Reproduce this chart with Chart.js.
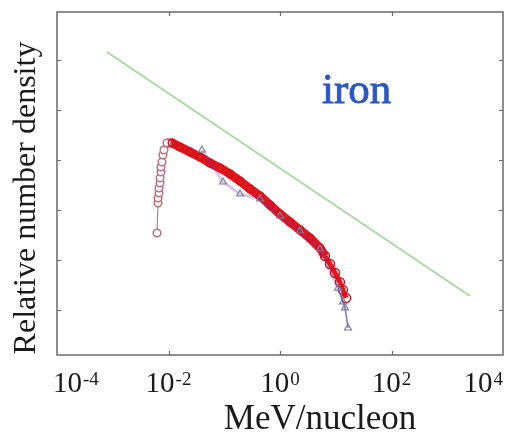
<!DOCTYPE html>
<html>
<head>
<meta charset="utf-8">
<script src="https://cdn.jsdelivr.net/npm/chart.js@4.4.0/dist/chart.umd.min.js"></script>
<style>
    body { margin: 0; background: #fff; }
    canvas { display: block; }
</style>
</head>
<body>
<canvas id="chart" width="509" height="436"></canvas>
<script>
// iron spectrum (MeV/nucleon vs relative number density)
const redEnergy = [6.22e-3, 6.49e-3, 6.49e-3, 6.76e-3, 6.76e-3, 7.05e-3, 7.05e-3, 7.33e-3, 7.33e-3, 7.64e-3, 7.96e-3, 8.30e-3,
    9.40e-3, 1.16e-2, 1.61e-2, 2.43e-2, 3.67e-2, 5.55e-2, 8.39e-2, 0.127, 0.192, 0.290, 0.438, 0.662, 1.0, 1.51, 2.28,
    3.45, 5.21, 6.41, 7.88, 9.70, 11.9, 13.5, 15.3];
const redDensity = [34.7, 138, 174, 219, 275, 347, 437, 575, 724, 912, 1259, 1585,
    2188, 2188, 1820, 1445, 1148, 871, 692, 525, 380, 263, 191, 126, 83, 57.5, 39.8,
    27.5, 17.4, 12.0, 8.3, 5.5, 3.6, 2.5, 1.74];

const blueEnergy = [3.99e-2, 9.51e-2, 0.192, 0.438, 1.0, 2.28, 5.21, 11.0, 13.5, 14.7, 16.6];
const blueDensity = [1585, 363, 209, 166, 75.9, 38.0, 16.6, 2.75, 1.45, 1.10, 0.437];

const powerLawEnergy = [7.89e-4, 2558];
const powerLawDensity = [1.445e5, 1.905];

const xTickValues = [1e-4, 1e-2, 1, 1e2, 1e4];
const xTickExponents = ['-4', '-2', '0', '2', '4'];
const yTickValues = [1, 10, 100, 1e3, 1e4, 1e5];

const toPoints = (xs, ys) => xs.map((x, i) => ({ x: x, y: ys[i] }));

const RISE_END = 12;  // first points climb steeply, drawn thin
const RED_TAIL = 29;  // circles get sparser at the high-energy end
const BLUE_TAIL = 7;  // triangle line is only clearly seen at the high-energy end

const framePlugin = {
    id: 'frame',
    afterDatasetsDraw(chart) {
        const { ctx, chartArea: a, scales } = chart;
        ctx.save();
        ctx.strokeStyle = '#6a6a6a';
        ctx.lineWidth = 1.5;
        ctx.strokeRect(a.left, a.top, a.right - a.left, a.bottom - a.top);

        // inward ticks on all four sides
        ctx.lineWidth = 1.2;
        ctx.beginPath();
        xTickValues.slice(1, -1).forEach(v => {
            const px = Math.round(scales.x.getPixelForValue(v)) + 0.5;
            ctx.moveTo(px, a.bottom); ctx.lineTo(px, a.bottom - 4);
            ctx.moveTo(px, a.top); ctx.lineTo(px, a.top + 4);
        });
        yTickValues.forEach(v => {
            const py = Math.round(scales.y.getPixelForValue(v)) + 0.5;
            ctx.moveTo(a.left, py); ctx.lineTo(a.left + 4, py);
            ctx.moveTo(a.right, py); ctx.lineTo(a.right - 4, py);
        });
        ctx.stroke();

        // x tick labels as 10 with a raised exponent
        ctx.fillStyle = '#1a1a1a';
        ctx.textBaseline = 'alphabetic';
        xTickValues.forEach((v, i) => {
            ctx.font = '29px "Liberation Serif"';
            const baseW = ctx.measureText('10').width;
            ctx.font = '19px "Liberation Serif"';
            const expW = ctx.measureText(xTickExponents[i]).width;
            const w = baseW + expW + 1;
            let left = scales.x.getPixelForValue(v) - w / 2;
            left = Math.max(left, a.left - 4);
            left = Math.min(left, chart.width - 6 - w);
            ctx.font = '29px "Liberation Serif"';
            ctx.fillText('10', left, 392);
            ctx.font = '19px "Liberation Serif"';
            ctx.fillText(xTickExponents[i], left + baseW + 1, 385);
        });

        // axis titles
        ctx.textAlign = 'center';
        ctx.font = '35px "Liberation Serif"';
        ctx.fillText('MeV/nucleon', (a.left + a.right) / 2 + 40, 429);

        ctx.save();
        ctx.translate(35, 198);
        ctx.rotate(-Math.PI / 2);
        ctx.font = '32px "Liberation Serif"';
        ctx.fillText('Relative number density', 0, 0);
        ctx.restore();

        // element label, regular face with a light stroke to thicken it a bit
        ctx.textAlign = 'left';
        ctx.fillStyle = '#2b56c4';
        ctx.strokeStyle = '#2b56c4';
        ctx.lineWidth = 0.9;
        ctx.font = '43px "Liberation Serif"';
        ctx.fillText('iron', 322, 103);
        ctx.strokeText('iron', 322, 103);
        ctx.restore();
    }
};

new Chart(document.getElementById('chart').getContext('2d'), {
    type: 'line',
    data: {
        datasets: [{
            label: 'triangles',
            data: toPoints(blueEnergy, blueDensity),
            borderWidth: 2.5,
            segment: {
                borderColor: c => c.p0DataIndex < BLUE_TAIL ? 'rgba(110, 50, 170, 0.28)' : 'rgba(90, 90, 200, 0.85)',
                borderWidth: c => c.p0DataIndex < BLUE_TAIL ? 3 : 1.5
            },
            pointStyle: 'triangle',
            pointRadius: 4,
            pointBorderColor: '#80809a',
            pointBorderWidth: 1.2,
            pointBackgroundColor: 'rgba(255,255,255,0)',
            tension: 0,
            order: 1
        }, {
            label: 'circles',
            data: toPoints(redEnergy, redDensity),
            borderColor: '#e3161c',
            segment: {
                borderWidth: c => c.p0DataIndex < RISE_END ? 1.2 : (c.p0DataIndex < RED_TAIL ? 9 : 5),
                borderColor: c => c.p0DataIndex < RISE_END ? '#a88890' : '#e5161c'
            },
            pointRadius: c => c.dataIndex < RED_TAIL ? 3.8 : 4.5,
            pointBorderWidth: 1.5,
            pointBorderColor: c => c.dataIndex <= RISE_END ? '#b8707c' : '#d0101a',
            pointBackgroundColor: c => c.dataIndex <= RISE_END ? '#ffffff' : 'rgba(255,255,255,0)',
            tension: 0,
            order: 2
        }, {
            label: 'power law',
            data: toPoints(powerLawEnergy, powerLawDensity),
            borderColor: '#a9d9a2',
            borderWidth: 2,
            pointRadius: 0,
            tension: 0,
            order: 3
        }]
    },
    options: {
        responsive: false,
        animation: false,
        layout: { padding: { left: 57, right: 6, top: 12, bottom: 81 } },
        scales: {
            x: { type: 'logarithmic', min: 1e-4, max: 1e4, display: false },
            y: { type: 'logarithmic', min: Math.pow(10, -0.9), max: Math.pow(10, 5.96), display: false }
        },
        plugins: {
            legend: { display: false },
            tooltip: { enabled: false }
        }
    },
    plugins: [framePlugin]
});
</script>
</body>
</html>
